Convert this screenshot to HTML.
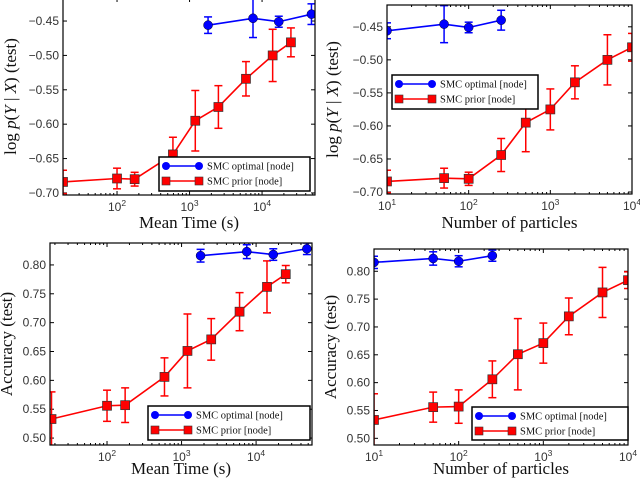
<!DOCTYPE html>
<html><head><meta charset="utf-8"><style>
body{margin:0;background:#fff;width:640px;height:482px;overflow:hidden}
svg{display:block}
.tk{font-family:"Liberation Sans",sans-serif;font-size:12px;fill:#333}
.tt{font-family:"Liberation Serif",serif;font-size:17px;fill:#111}
.lg{font-family:"Liberation Serif",serif;font-size:10.5px;fill:#111}
</style></head><body>
<svg id="fig" width="640" height="482"></svg>
<script>
const timesPrior=[18,100,175,590,1200,2500,6000,14000,25000];
const timesOpt=[1800,7500,17000,48000];
const particlesPrior=[10,50,100,250,500,1000,2000,5000,10000];
const particlesOpt=[10,50,100,250];
const llPrior=[-0.684,-0.679,-0.680,-0.644,-0.595,-0.575,-0.534,-0.500,-0.481];
const llPriorErr=[0.017,0.015,0.010,0.025,0.044,0.031,0.025,0.038,0.021];
const llOpt=[-0.456,-0.446,-0.451,-0.440];
const llOptErr=[0.012,0.028,0.008,0.015];
const accPrior=[0.533,0.556,0.557,0.606,0.651,0.671,0.719,0.762,0.784];
const accPriorErr=[0.047,0.027,0.030,0.033,0.064,0.036,0.033,0.045,0.015];
const accOpt=[0.816,0.823,0.818,0.828];
const accOptErr=[0.011,0.012,0.010,0.010];
const llTicks=[-0.70,-0.65,-0.60,-0.55,-0.50,-0.45];
const accTicks=[0.50,0.55,0.60,0.65,0.70,0.75,0.80];
const NS="http://www.w3.org/2000/svg";
const fig=document.getElementById('fig');
function mk(tag,attrs,parent,text){const e=document.createElementNS(NS,tag);for(const k in attrs)e.setAttribute(k,attrs[k]);if(text!==undefined)e.textContent=text;parent.appendChild(e);return e;}
function panel(p){
  const g=mk('g',{},fig);
  
  
  const X=v=>p.L+(Math.log10(v)-p.xl[0])/(p.xl[1]-p.xl[0])*(p.R-p.L);
  const Y=v=>p.B-(v-p.yl[0])/(p.yl[1]-p.yl[0])*(p.B-p.T);
  const clip='c'+p.name;
  const cp=mk('clipPath',{id:clip},g);mk('rect',{x:p.L,y:p.T,width:p.R-p.L,height:p.B-p.T},cp);
  p.yt.forEach(v=>{const y=Y(v);
    mk('line',{x1:p.L,x2:p.L+4,y1:y,y2:y,stroke:'#000'},g);mk('line',{x1:p.R,x2:p.R-4,y1:y,y2:y,stroke:'#000'},g);
    const t=mk('text',{x:p.L-4,y:y+4,'text-anchor':'end',class:'tk'},g,(v<0?'\u2212':'')+Math.abs(v).toFixed(2));
    
    });
  for(let d=Math.floor(p.xl[0]);d<=Math.ceil(p.xl[1]);d++){
    for(let m=1;m<10;m++){const lv=d+Math.log10(m);if(lv<p.xl[0]-1e-6||lv>p.xl[1]+1e-6)continue;
      const x=X(Math.pow(10,lv));const len=m==1?4:2;
      mk('line',{x1:x,x2:x,y1:p.B,y2:p.B-len,stroke:'#000'},g);mk('line',{x1:x,x2:x,y1:p.T,y2:p.T+len,stroke:'#000'},g);
      if(m==1){const t=mk('text',{x:x,y:p.B+16,'text-anchor':'middle',class:'tk'},g);
        
        
        mk('tspan',{},t,'10');mk('tspan',{dy:-5,'font-size':'8.5'},t,String(d));}}}
  const series=[{x:p.px,y:p.py,e:p.pe,c:'#f00',sq:true,n:'prior-series'},{x:p.ox,y:p.oy,e:p.oe,c:'#00f',sq:false,n:'optimal-series'}];
  series.forEach(s=>{const sg=mk('g',{'clip-path':'url(#'+clip+')'},g);
    
    
    s.x.forEach((xv,i)=>{const x=X(xv),y1=Y(s.y[i]-s.e[i]),y2=Y(s.y[i]+s.e[i]);
      mk('line',{x1:x,x2:x,y1:y1,y2:y2,stroke:s.c,'stroke-width':1.5},sg);
      mk('line',{x1:x-4,x2:x+4,y1:y1,y2:y1,stroke:s.c,'stroke-width':1.5},sg);
      mk('line',{x1:x-4,x2:x+4,y1:y2,y2:y2,stroke:s.c,'stroke-width':1.5},sg);});
    mk('polyline',{points:s.x.map((xv,i)=>X(xv)+','+Y(s.y[i])).join(' '),fill:'none',stroke:s.c,'stroke-width':1.6},sg);
    s.x.forEach((xv,i)=>{const x=X(xv),y=Y(s.y[i]);
      const m=s.sq?mk('rect',{x:x-4.5,y:y-4.5,width:9,height:9,fill:s.c,stroke:'#333','stroke-width':0.7},sg):mk('circle',{cx:x,cy:y,r:4.5,fill:s.c,stroke:'#002','stroke-width':0.5},sg);
      
      });});
  mk('rect',{x:p.L,y:p.T,width:p.R-p.L,height:p.B-p.T,fill:'none',stroke:'#000','stroke-width':1.2},g);
  const lg=mk('g',{},g);
  
  
  const [lx,ly,lw,lh]=p.leg;
  mk('rect',{x:lx,y:ly,width:lw,height:lh,fill:'#fff',stroke:'#000','stroke-width':1.5},lg);
  [[ '#00f',false,'SMC optimal [node]'],['#f00',true,'SMC prior [node]']].forEach((r,i)=>{
    const y=ly+9+i*15;
    mk('line',{x1:lx+7,x2:lx+40,y1:y,y2:y,stroke:r[0],'stroke-width':1.6},lg);
    [lx+7,lx+40].forEach(x=>{r[1]?mk('rect',{x:x-4,y:y-4,width:8,height:8,fill:r[0],stroke:'#333','stroke-width':0.6},lg):mk('circle',{cx:x,cy:y,r:4,fill:r[0]},lg);});
    const t=mk('text',{x:lx+48,y:y+3.5,class:'lg'},lg,r[2]);
    
    });
  const xt=mk('text',{x:(p.L+p.R)/2,y:p.B+p.xto,'text-anchor':'middle',class:'tt'},g,p.xlab);
  
  
  const cy=(p.T+p.B)/2;
  const yt=mk('text',{x:p.ylx,y:cy,'text-anchor':'middle',class:'tt',transform:'rotate(-90 '+p.ylx+' '+cy+')'},g);
  
  
  if(p.ll){mk('tspan',{},yt,'log ');mk('tspan',{'font-style':'italic'},yt,'p');mk('tspan',{},yt,'(');mk('tspan',{'font-style':'italic'},yt,'Y');mk('tspan',{},yt,' | ');mk('tspan',{'font-style':'italic'},yt,'X');mk('tspan',{},yt,') (test)');}
  else yt.textContent='Accuracy (test)';
}
panel({name:'ll-vs-time',L:63,R:315,T:-2,B:195,xl:[1.255,4.73],yl:[-0.703,-0.4165],yt:llTicks,px:timesPrior,py:llPrior,pe:llPriorErr,ox:timesOpt,oy:llOpt,oe:llOptErr,leg:[159,157,151,34],xlab:'Mean Time (s)',xto:33,ylx:16,ll:true});
panel({name:'ll-vs-particles',L:387,R:632,T:5,B:194,xl:[1,4],yl:[-0.703,-0.417],yt:llTicks,px:particlesPrior,py:llPrior,pe:llPriorErr,ox:particlesOpt,oy:llOpt,oe:llOptErr,leg:[392,75,146,34],xlab:'Number of particles',xto:34,ylx:338,ll:true});
panel({name:'acc-vs-time',L:50,R:312,T:243,B:445,xl:[1.235,4.75],yl:[0.488,0.838],yt:accTicks,px:timesPrior,py:accPrior,pe:accPriorErr,ox:timesOpt,oy:accOpt,oe:accOptErr,leg:[148,406,162,34],xlab:'Mean Time (s)',xto:29,ylx:12,ll:false});
panel({name:'acc-vs-particles',L:374,R:628,T:249,B:445,xl:[1,4],yl:[0.488,0.840],yt:accTicks,px:particlesPrior,py:accPrior,pe:accPriorErr,ox:particlesOpt,oy:accOpt,oe:accOptErr,leg:[472,407,156,33],xlab:'Number of particles',xto:29,ylx:336,ll:false});
</script>
</body></html>
